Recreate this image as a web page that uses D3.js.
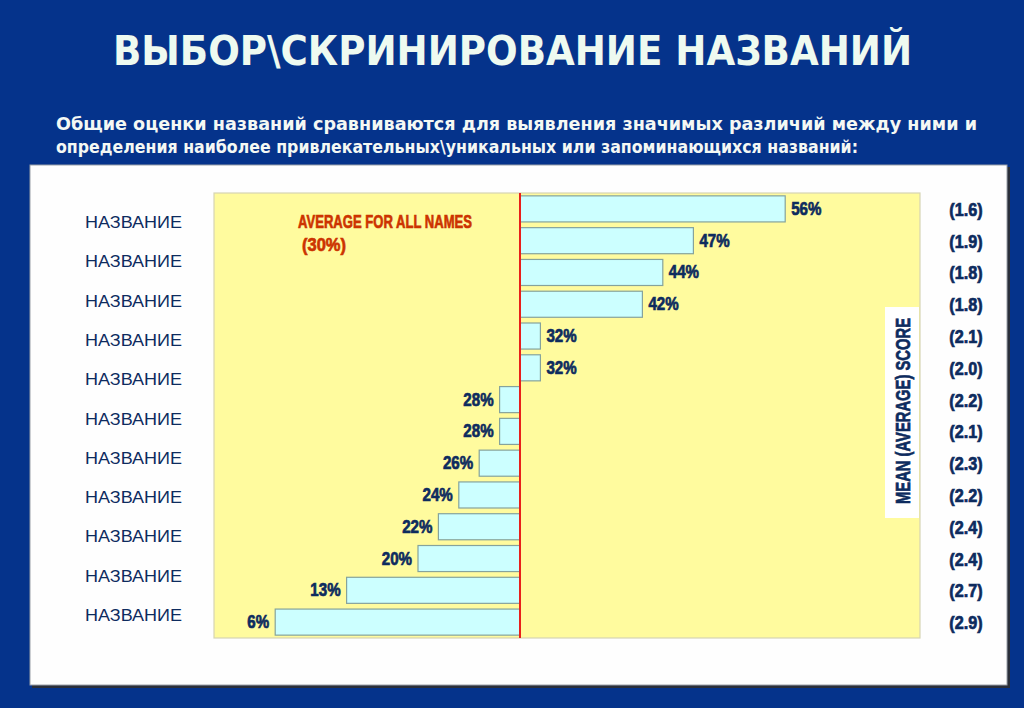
<!DOCTYPE html>
<html><head><meta charset="utf-8">
<script src="https://cdn.jsdelivr.net/npm/d3@7"></script>
<style>
html,body{margin:0;padding:0;background:#05338b;}
svg{display:block;}
</style></head>
<body>
<svg id="c" width="1024" height="708"></svg>
<script>
// ---- data ----
const titleText = "ВЫБОР\\СКРИНИРОВАНИЕ НАЗВАНИЙ";
const subtitleLines = [
  "Общие оценки названий сравниваются для выявления значимых различий между ними и",
  "определения наиболее привлекательных\\уникальных или запоминающихся названий:"
];
const nameLabels = ["НАЗВАНИЕ","НАЗВАНИЕ","НАЗВАНИЕ","НАЗВАНИЕ","НАЗВАНИЕ","НАЗВАНИЕ",
                    "НАЗВАНИЕ","НАЗВАНИЕ","НАЗВАНИЕ","НАЗВАНИЕ","НАЗВАНИЕ"];
const barIds = ["n1","n2","n3","n4","n5","n6","n7","n8","n9","n10","n11","n12","n13","n14"];
const percentValues = [56,47,44,42,32,32,28,28,26,24,22,20,13,6];
const meanScores = ["1.6","1.9","1.8","1.8","2.1","2.0","2.2","2.1","2.3","2.2","2.4","2.4","2.7","2.9"];
const averageValue = 30;
const averageLabel = ["AVERAGE FOR ALL NAMES", "(30%)"];
const meanAxisLabel = "MEAN (AVERAGE) SCORE";

// ---- drawing ----
const svg = d3.select("#c");
const navy = "#0d2b5e";
const heavy = "'Liberation Sans',Arial,sans-serif";
const wide = "'DejaVu Sans',Verdana,sans-serif";

// background
svg.append("rect").attr("width",1024).attr("height",708).attr("fill","#05338b");

// title
svg.append("text").attr("x",113).attr("y",65)
  .attr("textLength",799).attr("lengthAdjust","spacingAndGlyphs")
  .attr("font-family",wide).attr("font-weight","bold").attr("font-size",40)
  .attr("fill","#eefaf0").text(titleText);

// subtitle
const subLens = [921, 802];
svg.selectAll("text.sub").data(subtitleLines).join("text").attr("class","sub")
  .attr("x",56).attr("y",(d,i)=>130 + i*23)
  .attr("textLength",(d,i)=>subLens[i]).attr("lengthAdjust","spacingAndGlyphs")
  .attr("font-family",wide).attr("font-weight","bold").attr("font-size",17.5)
  .attr("fill","#f4f8f4").text(d=>d);

// white panel with shadow
svg.append("rect").attr("x",32).attr("y",167).attr("width",978).attr("height",521).attr("fill","#2a2f3a");
svg.append("rect").attr("x",30).attr("y",165).attr("width",977).attr("height",520)
  .attr("fill","#fefefe").attr("stroke","#9aa0a8").attr("stroke-width",1);

// plot area
const plot = {x0:214, x1:920, y0:193, y1:638};
svg.append("rect").attr("x",plot.x0).attr("y",plot.y0)
  .attr("width",plot.x1-plot.x0).attr("height",plot.y1-plot.y0)
  .attr("fill","#fffb9e").attr("stroke","#d6d4b4").attr("stroke-width",1.2);

const x = d3.scaleLinear().domain([0, averageValue]).range([plot.x0, 520]);
const y = d3.scaleBand().domain(barIds).range([plot.y0, plot.y1]).paddingInner(0.18).paddingOuter(0.09);

const data = barIds.map((id,i)=>({id, v:percentValues[i], s:meanScores[i]}));

// bars
svg.selectAll("rect.bar").data(data).join("rect").attr("class","bar")
  .attr("x",d=>Math.min(x(d.v),x(averageValue)))
  .attr("y",d=>y(d.id))
  .attr("width",d=>Math.abs(x(d.v)-x(averageValue)))
  .attr("height",y.bandwidth())
  .attr("fill","#ccffff").attr("stroke","#86a39c").attr("stroke-width",1.2);

// average line
svg.append("line").attr("x1",x(averageValue)).attr("x2",x(averageValue))
  .attr("y1",plot.y0).attr("y2",plot.y1)
  .attr("stroke","#e8201a").attr("stroke-width",2);

// heavy condensed text helper
function heavyText(sel){
  return sel.attr("font-family",heavy).attr("font-weight","bold")
    .attr("stroke-width",0.7).attr("paint-order","stroke");
}

// percent labels
heavyText(svg.selectAll("text.pct").data(data).join("text").attr("class","pct")
  .attr("transform",d=>`translate(${d.v>=averageValue ? x(d.v)+6 : x(d.v)-6},${y(d.id)+y.bandwidth()/2+6}) scale(0.84,1)`)
  .attr("text-anchor",d=> d.v>=averageValue ? "start" : "end")
  .attr("font-size",18).attr("fill",navy).attr("stroke",navy)
  .text(d=>d.v+"%"));

// average annotation
heavyText(svg.append("text").attr("x",298).attr("y",228)
  .attr("textLength",174).attr("lengthAdjust","spacingAndGlyphs")
  .attr("font-size",19).attr("fill","#cc3300").attr("stroke","#cc3300")
  .text(averageLabel[0]));
heavyText(svg.append("text").attr("x",302).attr("y",251)
  .attr("textLength",44).attr("lengthAdjust","spacingAndGlyphs")
  .attr("font-size",19).attr("fill","#cc3300").attr("stroke","#cc3300")
  .text(averageLabel[1]));

// name labels
const yn = d3.scalePoint().domain(d3.range(nameLabels.length)).range([222, 615]);
svg.selectAll("text.nm").data(nameLabels).join("text").attr("class","nm")
  .attr("x",85).attr("y",(d,i)=>yn(i)+6)
  .attr("textLength",97).attr("lengthAdjust","spacingAndGlyphs")
  .attr("font-family","'Liberation Sans',Arial,sans-serif").attr("font-size",16)
  .attr("fill",navy).text(d=>d);

// mean scores
heavyText(svg.selectAll("text.sc").data(data).join("text").attr("class","sc")
  .attr("transform",d=>`translate(966,${y(d.id)+y.bandwidth()/2+7}) scale(0.9,1)`)
  .attr("text-anchor","middle")
  .attr("font-size",18).attr("fill",navy).attr("stroke",navy)
  .text(d=>"("+d.s+")"));

// mean axis label box
svg.append("rect").attr("x",885).attr("y",307).attr("width",34).attr("height",211).attr("fill","#ffffff");
heavyText(svg.append("text").attr("transform","translate(910,411) rotate(-90)")
  .attr("text-anchor","middle")
  .attr("textLength",186).attr("lengthAdjust","spacingAndGlyphs")
  .attr("font-size",21).attr("fill",navy).attr("stroke",navy)
  .text(meanAxisLabel));
</script>
</body></html>
